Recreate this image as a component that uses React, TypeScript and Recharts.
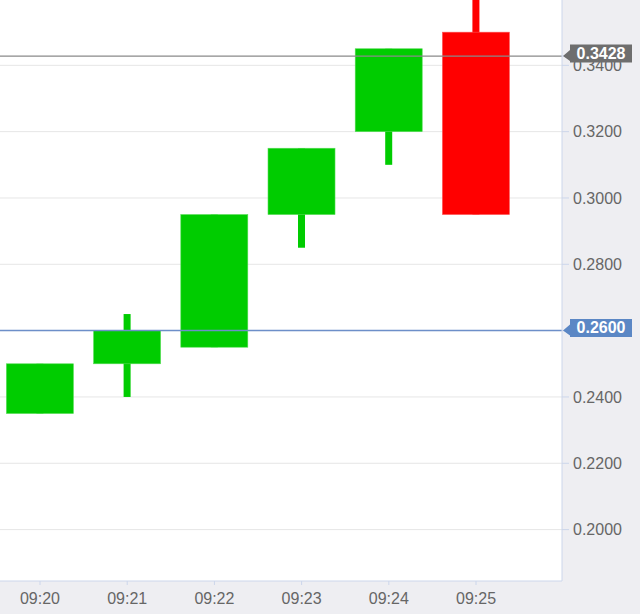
import React from 'react';
import { ComposedChart, Bar, XAxis, YAxis, CartesianGrid, ReferenceLine } from 'recharts';

const times = ['09:20', '09:21', '09:22', '09:23', '09:24', '09:25'];
const opens = [0.235, 0.25, 0.255, 0.295, 0.32, 0.35];
const closes = [0.25, 0.26, 0.295, 0.315, 0.345, 0.295];
const highs = [0.25, 0.265, 0.295, 0.315, 0.345, 0.36];
const lows = [0.235, 0.24, 0.255, 0.285, 0.31, 0.295];
const yTicks = [0.2, 0.22, 0.24, 0.26, 0.28, 0.3, 0.32, 0.34];
const lastPrice = 0.3428;
const markPrice = 0.26001;
const tagPrices = [lastPrice, markPrice];
const tagColors = ['#6e6e6e', '#5b87c5'];

const data = times.map((t, i) => ({
  idx: i,
  time: t,
  open: opens[i],
  close: closes[i],
  high: highs[i],
  low: lows[i],
  range: [lows[i], highs[i]],
}));

const FONT = '"Liberation Sans", Arial, Helvetica, sans-serif';

const Candle = (props: any) => {
  const { x, y, width, height, payload } = props;
  if (!payload) return null;
  const { open, close, high, low } = payload;
  const top = Math.min(y, y + height);
  const h = Math.abs(height);
  const ppu = h / (high - low || 1);
  const yOf = (v: number) => top + (high - v) * ppu;
  const cx = x + width / 2;
  const bodyW = 67;
  const wickW = 7;
  const up = close >= open;
  const color = up ? '#00cc00' : '#ff0000';
  const bTop = yOf(Math.max(open, close));
  const bBot = yOf(Math.min(open, close));
  return (
    <g>
      <rect x={cx - wickW / 2} y={yOf(high)} width={wickW} height={Math.max(0, yOf(low) - yOf(high))} fill={color} />
      <rect x={cx - bodyW / 2} y={bTop} width={bodyW} height={Math.max(1, bBot - bTop)} fill={color} stroke={up ? '#55dd55' : '#ff5555'} strokeWidth={0.6} />
    </g>
  );
};

const AxisTick = (props: any) => {
  const { x, y, payload } = props;
  if (!payload) return null;
  const v = Number(payload.value);
  const i = tagPrices.indexOf(v);
  if (i < 0) {
    return (
      <text x={x} y={y} dy="0.355em" textAnchor="start" fill="#666666" fontFamily={FONT} fontSize={16}>
        {v.toFixed(4)}
      </text>
    );
  }
  const color = tagColors[i];
  const lx = x - 10;
  const ly = y;
  const h = 18;
  const w = 62;
  const bx = lx + 7;
  const c = ly - 2.5;
  const d = `M${lx},${ly} L${bx},${ly - 6} L${bx},${c - h / 2} L${bx + w},${c - h / 2} L${bx + w},${c + h / 2} L${bx},${c + h / 2} L${bx},${ly + 5} Z`;
  return (
    <g>
      <path d={d} fill={color} />
      <text x={bx + w / 2} y={c + 1} textAnchor="middle" dominantBaseline="middle" fill="#ffffff" fontFamily={FONT} fontWeight="bold" fontSize={16}>
        {v.toFixed(4)}
      </text>
    </g>
  );
};

export default function App() {
  return (
    <div style={{ position: 'absolute', left: 0, top: 0, width: 640, height: 614, background: '#eeeef2' }}>
      <ComposedChart width={640} height={614} data={data} margin={{ top: 0, right: 0, bottom: 0, left: 0 }}>
        <CartesianGrid vertical={false} stroke="#e6e6e6" fill="#ffffff" horizontalValues={yTicks} />
        <XAxis
          dataKey="idx"
          type="number"
          domain={[-0.4587, 5.986]}
          allowDataOverflow
          ticks={[0, 1, 2, 3, 4, 5]}
          tickFormatter={(v: number) => times[v] ?? ''}
          height={33}
          stroke="#ccd6eb"
          tickSize={4}
          tickMargin={8}
          tick={{ fill: '#666666', fontSize: 16, fontFamily: FONT }}
        />
        <YAxis
          orientation="right"
          type="number"
          domain={[0.1845, 0.3597]}
          allowDataOverflow
          ticks={[...yTicks, ...tagPrices]}
          interval={0}
          width={78}
          stroke="#ccd6eb"
          tickSize={7}
          tickMargin={4}
          tick={<AxisTick />}
        />
        <Bar dataKey="range" barSize={67} shape={<Candle />} isAnimationActive={false} />
        <ReferenceLine y={lastPrice} stroke="#8a8a8a" strokeWidth={1.2} ifOverflow="visible" />
        <ReferenceLine y={markPrice} stroke="#6d8fc9" strokeWidth={1.5} ifOverflow="visible" />
      </ComposedChart>
    </div>
  );
}
